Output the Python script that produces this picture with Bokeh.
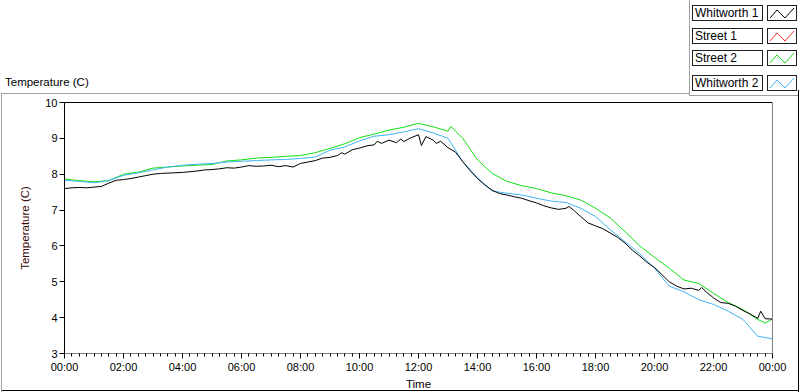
import numpy as np
from bokeh.plotting import figure
from bokeh.layouts import column
from bokeh.models import Range1d, FixedTicker, LinearAxis, Div
from bokeh.embed import file_html
from bokeh.resources import INLINE

FONT = "Liberation Sans"

# ---------------- data ----------------
series_names = ["Whitworth 1", "Street 1", "Street 2", "Whitworth 2"]
series_colors = ["#000000", "#ff2a2a", "#10e010", "#40b4f2"]

x_tick_hours = [0, 2, 4, 6, 8, 10, 12, 14, 16, 18, 20, 22, 24]
x_tick_labels = ["00:00", "02:00", "04:00", "06:00", "08:00", "10:00", "12:00",
                 "14:00", "16:00", "18:00", "20:00", "22:00", "00:00"]
y_ticks = [3, 4, 5, 6, 7, 8, 9, 10]

whitworth1_hours = [0, 0.25, 0.5, 0.75, 1.0, 1.25, 1.5, 1.75, 2.0, 2.25, 2.5, 2.75,
                    3.0, 3.25, 3.5, 3.75, 4.0, 4.25, 4.5, 4.75, 5.0, 5.25, 5.5, 5.75,
                    6.0, 6.25, 6.5, 6.75, 7.0, 7.25, 7.5, 7.75, 8.0, 8.25, 8.5, 8.75,
                    9.0, 9.25, 9.4, 9.5, 9.75, 10.0, 10.25, 10.5, 10.6, 10.75, 11.0, 11.25,
                    11.4, 11.5, 11.75, 12.0, 12.1, 12.25, 12.5, 12.6, 12.75, 13.0, 13.25, 13.5,
                    13.75, 14.0, 14.25, 14.5, 14.75, 15.0, 15.25, 15.5, 15.75, 16.0, 16.25, 16.5,
                    16.75, 17.0, 17.1, 17.25, 17.5, 17.75, 18.0, 18.25, 18.5, 18.75, 19.0, 19.25,
                    19.5, 19.75, 20.0, 20.25, 20.5, 20.75, 21.0, 21.25, 21.5, 21.6, 21.75, 22.0,
                    22.25, 22.5, 22.75, 23.0, 23.25, 23.5, 23.6, 23.75, 24.0]
whitworth1_temp = [7.60, 7.62, 7.63, 7.62, 7.64, 7.66, 7.75, 7.83, 7.85, 7.88, 7.92, 7.96,
                   8.00, 8.02, 8.03, 8.04, 8.05, 8.07, 8.09, 8.12, 8.13, 8.15, 8.18, 8.17,
                   8.20, 8.24, 8.22, 8.23, 8.25, 8.21, 8.24, 8.20, 8.30, 8.34, 8.38, 8.45,
                   8.47, 8.52, 8.60, 8.56, 8.68, 8.73, 8.79, 8.82, 8.92, 8.86, 8.95, 8.88,
                   8.98, 8.91, 9.02, 9.10, 8.80, 9.05, 8.95, 8.86, 8.92, 8.74, 8.62, 8.35,
                   8.10, 7.88, 7.70, 7.55, 7.46, 7.42, 7.37, 7.33, 7.26, 7.20, 7.12, 7.06,
                   7.02, 7.05, 7.10, 7.00, 6.82, 6.64, 6.56, 6.48, 6.36, 6.24, 6.08, 5.88,
                   5.72, 5.54, 5.40, 5.20, 5.00, 4.88, 4.80, 4.82, 4.76, 4.84, 4.72, 4.55,
                   4.42, 4.40, 4.32, 4.20, 4.10, 3.98, 4.18, 3.97, 3.96]

street1_hours = []
street1_temp = []

street2_hours = [0, 0.5, 1.0, 1.5, 2.0, 2.5, 3.0, 3.5, 4.0, 4.5, 5.0, 5.5, 6.0, 6.5,
                 7.0, 7.5, 8.0, 8.5, 9.0, 9.5, 10.0, 10.5, 11.0, 11.5, 12.0, 12.5, 13.0,
                 13.1, 13.5, 14.0, 14.5, 15.0, 15.5, 16.0, 16.5, 17.0, 17.5, 18.0, 18.5,
                 19.0, 19.5, 20.0, 20.5, 21.0, 21.5, 22.0, 22.5, 23.0, 23.5, 23.75, 24.0]
street2_temp = [7.87, 7.82, 7.79, 7.82, 8.00, 8.06, 8.17, 8.20, 8.23, 8.25, 8.27, 8.37, 8.40, 8.45,
                8.47, 8.50, 8.52, 8.60, 8.72, 8.85, 9.02, 9.12, 9.23, 9.31, 9.42, 9.32, 9.20,
                9.33, 9.00, 8.40, 8.02, 7.80, 7.68, 7.60, 7.48, 7.40, 7.28, 7.05, 6.78,
                6.40, 6.00, 5.68, 5.38, 5.05, 4.95, 4.68, 4.42, 4.22, 3.95, 3.85, 3.96]

whitworth2_hours = [0, 0.5, 1.0, 1.5, 2.0, 2.5, 3.0, 3.5, 4.0, 4.5, 5.0, 5.5, 6.0, 6.5,
                    7.0, 7.5, 8.0, 8.5, 9.0, 9.5, 10.0, 10.5, 11.0, 11.5, 12.0, 12.5, 13.0,
                    13.5, 14.0, 14.5, 15.0, 15.5, 16.0, 16.5, 17.0, 17.5, 18.0, 18.5, 19.0,
                    19.5, 20.0, 20.5, 21.0, 21.5, 22.0, 22.5, 23.0, 23.5, 24.0]
whitworth2_temp = [7.83, 7.80, 7.76, 7.82, 7.97, 8.04, 8.12, 8.20, 8.25, 8.28, 8.30, 8.34, 8.36, 8.38,
                   8.40, 8.41, 8.44, 8.48, 8.67, 8.76, 8.93, 9.06, 9.10, 9.18, 9.27, 9.15, 9.00,
                   8.35, 7.90, 7.53, 7.47, 7.42, 7.33, 7.25, 7.21, 7.05, 6.82, 6.45, 6.12,
                   5.78, 5.38, 4.88, 4.72, 4.50, 4.37, 4.18, 3.95, 3.48, 3.41]

# ---------------- header (title + legend) as HTML ----------------
W, H = 800, 392
TOP_H = 96
row_tops = [5, 28, 50, 75]
parts = [
    f'<div style="position:relative;width:{W}px;height:{TOP_H}px;overflow:hidden;'
    f'font-family:\'{FONT}\';font-size:11.5px;color:black;">',
    '<div style="position:absolute;left:5px;top:74px;line-height:16px;white-space:nowrap;">'
    'Temperature (C)</div>',
    '<div style="position:absolute;left:1px;top:93px;width:689px;height:1px;background:#a0a0a0;"></div>',
    '<div style="position:absolute;left:1px;top:93px;width:1px;height:3px;background:#a0a0a0;"></div>',
    '<div style="position:absolute;left:689px;top:0;width:1px;height:96px;background:#a0a0a0;"></div>',
    '<div style="position:absolute;left:689px;top:95px;width:109px;height:1px;background:#a0a0a0;"></div>',
    '<div style="position:absolute;left:798px;top:90px;width:1px;height:6px;background:black;"></div>',
]
for name, color, t in zip(series_names, series_colors, row_tops):
    parts.append(
        f'<div style="position:absolute;left:692px;top:{t}px;width:71px;height:16px;'
        f'box-sizing:border-box;border:1px solid #202020;background:white;padding-left:2px;'
        f'font-size:12px;line-height:14px;white-space:nowrap;">{name}</div>')
    parts.append(
        f'<div style="position:absolute;left:767px;top:{t}px;width:30px;height:16px;'
        f'box-sizing:border-box;border:1px solid #202020;background:white;">'
        f'<svg width="28" height="14" style="display:block">'
        f'<polyline points="2,12 9,4 17,12 26,2" fill="none" stroke="{color}" stroke-width="1"/>'
        f'</svg></div>')
parts.append('</div>')
header = Div(text="".join(parts), width=W, height=TOP_H, margin=(0, 0, 0, 0))

# ---------------- main chart ----------------
p = figure(width=W, height=H - TOP_H, x_range=Range1d(0, 24), y_range=Range1d(3, 10),
           output_backend="svg", toolbar_location=None,
           min_border_left=64, min_border_right=28, min_border_top=6, min_border_bottom=39)
p.outline_line_color = None
p.grid.visible = False
p.background_fill_color = "white"
p.border_fill_color = None
p.styles = {"box-shadow": "inset 1px 0 0 white, inset 2px 0 0 #a0a0a0, "
                          "inset -1px 0 0 white, inset -2px 0 0 black, "
                          "inset 0 -1px 0 white, inset 0 -2px 0 black"}

# x axis
xa = p.xaxis[0]
xa.ticker = FixedTicker(ticks=x_tick_hours, minor_ticks=list(np.arange(0, 24.001, 0.25)))
xa.major_label_overrides = {h: lab for h, lab in zip(x_tick_hours, x_tick_labels)}
xa.axis_line_color = "#808080"
xa.major_tick_line_color = "black"
xa.minor_tick_line_color = "black"
xa.major_tick_in = 0
xa.major_tick_out = 5
xa.minor_tick_in = 0
xa.minor_tick_out = 3
xa.major_label_standoff = 2
xa.major_label_text_font = FONT
xa.major_label_text_font_size = "11px"
xa.major_label_text_color = "black"
xa.axis_label = "Time"
xa.axis_label_standoff = 2
xa.axis_label_text_font = FONT
xa.axis_label_text_font_size = "11.5px"
xa.axis_label_text_font_style = "normal"
xa.axis_label_text_color = "black"

# y axis
ya = p.yaxis[0]
ya.ticker = FixedTicker(ticks=y_ticks, minor_ticks=[])
ya.axis_line_color = "black"
ya.major_tick_line_color = "black"
ya.major_tick_in = 0
ya.major_tick_out = 5
ya.minor_tick_out = 0
ya.minor_tick_in = 0
ya.major_label_standoff = 2
ya.major_label_text_font = FONT
ya.major_label_text_font_size = "11px"
ya.major_label_text_color = "black"
ya.axis_label = "Temperature (C)"
ya.axis_label_standoff = 11
ya.axis_label_text_font = FONT
ya.axis_label_text_font_size = "11.5px"
ya.axis_label_text_font_style = "normal"
ya.axis_label_text_color = "#3a0a0a"

# frame top (black) and right (gray) edges as bare axes
top_axis = LinearAxis(ticker=FixedTicker(ticks=[]), axis_line_color="black",
                      major_tick_line_color=None, minor_tick_line_color=None,
                      major_tick_out=0, major_tick_in=0, major_label_standoff=0,
                      axis_label_standoff=0, major_label_text_font_size="0px")
right_axis = LinearAxis(ticker=FixedTicker(ticks=[]), axis_line_color="#808080",
                        major_tick_line_color=None, minor_tick_line_color=None,
                        major_tick_out=0, major_tick_in=0, major_label_standoff=0,
                        axis_label_standoff=0, major_label_text_font_size="0px")
p.add_layout(top_axis, "above")
p.add_layout(right_axis, "right")

# data lines
p.line(street2_hours, street2_temp, line_color=series_colors[2], line_width=1)
p.line(street1_hours, street1_temp, line_color=series_colors[1], line_width=1)
p.line(whitworth2_hours, whitworth2_temp, line_color=series_colors[3], line_width=1)
p.line(whitworth1_hours, whitworth1_temp, line_color=series_colors[0], line_width=1)

layout = column(header, p, spacing=0)
open("out.html", "w").write(file_html(layout, INLINE))
